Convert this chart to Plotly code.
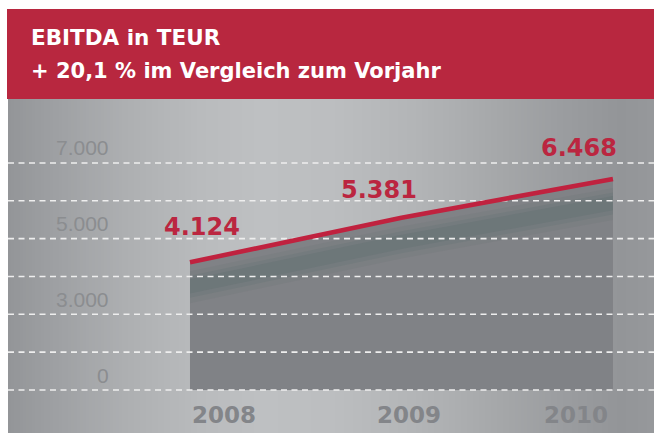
import plotly.graph_objects as go
import numpy as np

# ---- data ----
years = [2008, 2009, 2010]
ebitda = [4124, 5381, 6468]
value_labels = ["4.124", "5.381", "6.468"]
year_labels = ["2008", "2009", "2010"]
axis_labels = ["0", "3.000", "5.000", "7.000"]
title_lines = ["EBITDA in TEUR", "+ 20,1 % im Vergleich zum Vorjahr"]

# ---- layout constants ----
W, H = 654, 433
PLOT_LEFT, PLOT_TOP = 8, 99
X_RANGE = [2007.1395, 2010.194]
Y_RANGE = [-680, 8720]
GRID0, GRID_STEP, N_GRID = 530, 1065, 7
RED = "#bb2640"
LINE_RED = "#c0223f"

fig = go.Figure()

# background gradient (horizontal) made of thin strips
stops_px = [8, 60, 130, 200, 260, 330, 420, 500, 560, 620, 654]
stops_c = ["#939598", "#9fa1a4", "#aeb0b2", "#b9bbbd", "#bec0c2", "#bcbec0",
           "#b2b4b6", "#a5a7a9", "#9b9da0", "#939598", "#96989b"]
def hex2rgb(h):
    h = h.lstrip("#")
    return np.array([int(h[i:i+2], 16) for i in (0, 2, 4)], float)
rgbs = np.array([hex2rgb(c) for c in stops_c])
shapes = []
step = 3
for px in range(PLOT_LEFT, W, step):
    c = [np.interp(px + step / 2, stops_px, rgbs[:, k]) for k in range(3)]
    shapes.append(dict(type="rect", xref="paper", yref="paper",
                       x0=px / W, x1=min(px + step + 0.6, W) / W,
                       y0=0, y1=(H - PLOT_TOP) / H, line=dict(width=0),
                       fillcolor="rgb(%d,%d,%d)" % tuple(int(round(v)) for v in c),
                       layer="below"))
# red header band
shapes.append(dict(type="rect", xref="paper", yref="paper",
                   x0=7 / W, x1=1, y0=(H - PLOT_TOP) / H, y1=(H - 9) / H,
                   line=dict(width=0), fillcolor="#b8273f", layer="below"))

# area under the line
base = [GRID0] * len(years)
fig.add_trace(go.Scatter(x=years, y=base, mode="lines", line=dict(width=0),
                         hoverinfo="skip", showlegend=False))
fig.add_trace(go.Scatter(x=years, y=ebitda, mode="lines", line=dict(width=0),
                         fill="tonexty", fillcolor="#808286",
                         hoverinfo="skip", showlegend=False))

# soft shadow under the line: stacked translucent bands
for top_off, bot_off, col in [(250, 1150, "rgba(98,112,113,0.16)"),
                              (380, 1000, "rgba(92,110,110,0.2)"),
                              (480, 880, "rgba(88,106,106,0.22)")]:
    fig.add_trace(go.Scatter(x=years, y=[v - top_off for v in ebitda], mode="lines",
                             line=dict(width=0), hoverinfo="skip", showlegend=False))
    fig.add_trace(go.Scatter(x=years, y=[v - bot_off for v in ebitda], mode="lines",
                             line=dict(width=0), fill="tonexty", fillcolor=col,
                             hoverinfo="skip", showlegend=False))

# dashed grid lines (drawn above the area)
grid_vals = [GRID0 + k * GRID_STEP for k in range(N_GRID)]
for g in grid_vals:
    fig.add_trace(go.Scatter(x=X_RANGE, y=[g, g], mode="lines",
                             line=dict(width=1.6, color="#eeeeee", dash="6px,4.5px"),
                             hoverinfo="skip", showlegend=False))

# main red line
fig.add_trace(go.Scatter(x=years, y=ebitda, mode="lines",
                         line=dict(width=4.6, color=LINE_RED),
                         hoverinfo="skip", showlegend=False))

annotations = []
# header text
for i, (t, ypx, fs) in enumerate(zip(title_lines, [38, 71], [21.5, 21])):
    annotations.append(dict(text=t, xref="paper", yref="paper",
                            x=29 / W, y=1 - ypx / H, xanchor="left", yanchor="middle",
                            showarrow=False,
                            font=dict(family="DejaVu Sans", size=fs, color="white",
                                      weight="bold")))
# y-axis labels above every second grid line
for lab, g in zip(axis_labels, grid_vals[::2]):
    annotations.append(dict(text=lab, xref="paper", yref="y", x=111 / W, y=g,
                            xanchor="right", yanchor="middle", yshift=15,
                            showarrow=False,
                            font=dict(family="Liberation Sans", size=21,
                                      color="#8b8d90")))
# value labels
shifts = [(12, 35), (-22, 28), (-34, 31)]
for x, v, lab, (dx, dy) in zip(years, ebitda, value_labels, shifts):
    annotations.append(dict(text=lab, x=x, y=v, xref="x", yref="y",
                            xanchor="center", yanchor="middle",
                            xshift=dx, yshift=dy, showarrow=False,
                            font=dict(family="DejaVu Sans", size=24, color=RED,
                                      weight="bold")))
# year labels
anchors = [("left", 0), ("center", 8), ("right", -3)]
for x, lab, (anc, dx) in zip(years, year_labels, anchors):
    annotations.append(dict(text=lab, x=x, xref="x", yref="paper",
                            y=(H - 415) / H, xanchor=anc, yanchor="middle",
                            xshift=dx, showarrow=False,
                            font=dict(family="DejaVu Sans", size=23, color="#838589",
                                      weight="bold")))

fig.update_layout(
    width=W, height=H, autosize=False,
    margin=dict(l=0, r=0, t=0, b=0),
    paper_bgcolor="white", plot_bgcolor="rgba(0,0,0,0)",
    shapes=shapes, annotations=annotations,
    xaxis=dict(range=X_RANGE, domain=[PLOT_LEFT / W, 1], visible=False,
               fixedrange=True),
    yaxis=dict(range=Y_RANGE, domain=[0, (H - PLOT_TOP) / H], visible=False,
               fixedrange=True),
    showlegend=False,
)

fig.write_html("out.html", config={"displayModeBar": False})
